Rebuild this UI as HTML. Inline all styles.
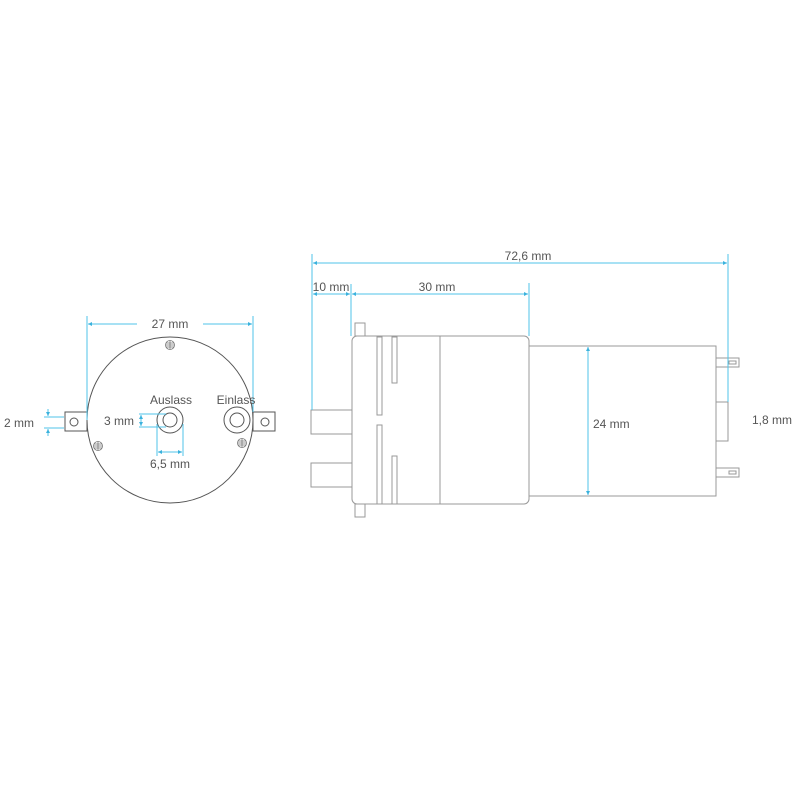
<!DOCTYPE html>
<html><head><style>body{margin:0;background:#fff}svg{display:block}text{font-family:"Liberation Sans",sans-serif;font-size:12px;fill:#555}</style></head>
<body>
<svg width="800" height="800" viewBox="0 0 800 800">
<defs>
<marker id="a" viewBox="0 0 6 6" refX="6" refY="3" markerWidth="4" markerHeight="4" orient="auto-start-reverse"><path d="M0,0L6,3L0,6z" fill="#3bb2dd"/></marker>
</defs>
<g fill="none" stroke="#555" stroke-width="1">
<circle cx="170" cy="420" r="83"/>
<rect x="65" y="412" width="22" height="19"/>
<circle cx="74" cy="422" r="4"/>
<rect x="253" y="412" width="22" height="19"/>
<circle cx="265" cy="422" r="4"/>
<circle cx="170" cy="420" r="13"/><circle cx="170" cy="420" r="7"/>
<circle cx="237" cy="420" r="13"/><circle cx="237" cy="420" r="7"/>
</g>
<g fill="none" stroke="#777" stroke-width="0.8">
<circle cx="170" cy="345" r="4.5"/><path d="M165.5 345h9M170 340.5v9M166 343h8M166 347h8"/>
<circle cx="98" cy="446" r="4.5"/><path d="M93.5 446h9M98 441.5v9M94 444h8M94 448h8"/>
<circle cx="242" cy="443" r="4.5"/><path d="M237.5 443h9M242 438.5v9M238 441h8M238 445h8"/>
</g>
<g fill="none" stroke="#999" stroke-width="1">
<rect x="352" y="336" width="177" height="168" rx="5"/>
<rect x="355" y="323" width="10" height="13"/>
<rect x="355" y="504" width="10" height="13"/>
<line x1="440" y1="336" x2="440" y2="504"/>
<rect x="377" y="337" width="5" height="78"/>
<rect x="377" y="425" width="5" height="79"/>
<rect x="392" y="337" width="5" height="46"/>
<rect x="392" y="456" width="5" height="48"/>
<path d="M352 410H311V434H352M352 463H311V487H352"/>
<rect x="529" y="346" width="187" height="150"/>
<rect x="716" y="358" width="23" height="9"/><rect x="729" y="361" width="7" height="3"/>
<rect x="716" y="468" width="23" height="9"/><rect x="729" y="471" width="7" height="3"/>
<path d="M716 402H728V441H716"/>
</g>
<g stroke="#4fc3e8" stroke-width="1" fill="none">
<line x1="87" y1="316" x2="87" y2="420"/><line x1="253" y1="316" x2="253" y2="412"/>
<line x1="88" y1="324" x2="137" y2="324" marker-start="url(#a)"/>
<line x1="203" y1="324" x2="252" y2="324" marker-end="url(#a)"/>
<line x1="44" y1="417" x2="64" y2="417"/><line x1="44" y1="428" x2="64" y2="428"/>
<line x1="48" y1="409" x2="48" y2="416" marker-end="url(#a)"/><line x1="48" y1="436" x2="48" y2="429" marker-end="url(#a)"/>
<line x1="139" y1="414" x2="166" y2="414"/><line x1="139" y1="427" x2="166" y2="427"/>
<line x1="141" y1="415" x2="141" y2="426" marker-start="url(#a)" marker-end="url(#a)"/>
<line x1="157" y1="424" x2="157" y2="456"/><line x1="183" y1="424" x2="183" y2="456"/>
<line x1="158" y1="452" x2="182" y2="452" marker-start="url(#a)" marker-end="url(#a)"/>
<line x1="312" y1="254" x2="312" y2="410"/><line x1="728" y1="254" x2="728" y2="402"/>
<line x1="313" y1="263" x2="727" y2="263" marker-start="url(#a)" marker-end="url(#a)"/>
<line x1="351" y1="284" x2="351" y2="336"/><line x1="529" y1="283" x2="529" y2="336"/>
<line x1="313" y1="294" x2="350" y2="294" marker-start="url(#a)" marker-end="url(#a)"/>
<line x1="352" y1="294" x2="528" y2="294" marker-start="url(#a)" marker-end="url(#a)"/>
<line x1="588" y1="347" x2="588" y2="495" marker-start="url(#a)" marker-end="url(#a)"/>
</g>
<text x="170" y="328" text-anchor="middle">27 mm</text>
<text x="4" y="427">2 mm</text>
<text x="171" y="404" text-anchor="middle">Auslass</text>
<text x="236" y="404" text-anchor="middle">Einlass</text>
<text x="104" y="425">3 mm</text>
<text x="170" y="468" text-anchor="middle">6,5 mm</text>
<text x="528" y="260" text-anchor="middle">72,6 mm</text>
<text x="331" y="291" text-anchor="middle">10 mm</text>
<text x="437" y="291" text-anchor="middle">30 mm</text>
<text x="593" y="428">24 mm</text>
<text x="752" y="424">1,8 mm</text>
</svg>
</body></html>
